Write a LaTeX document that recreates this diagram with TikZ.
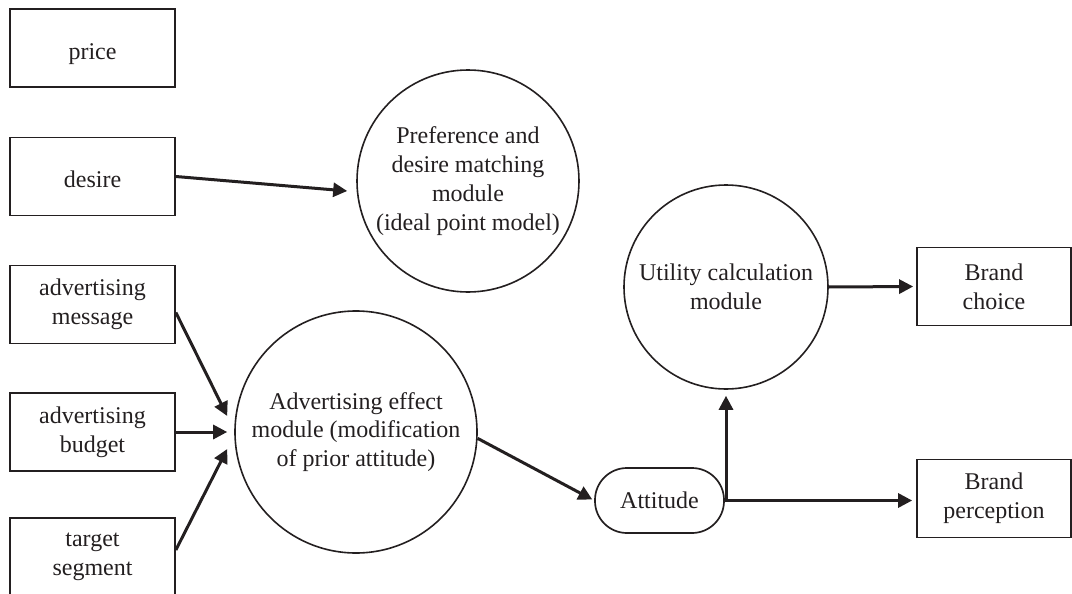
\documentclass[tikz,border=0pt]{standalone}
\usepackage{fontspec}
\setmainfont{Liberation Serif}
\usetikzlibrary{arrows.meta,calc}
\definecolor{ink}{RGB}{35,31,32}
\begin{document}
\begin{tikzpicture}[x=0.5pt,y=-0.5pt,
  font=\fontsize{12}{14.4}\selectfont,
  every node/.style={text=ink, align=center, inner sep=0pt},
  box/.style={draw=ink, line width=0.85pt, minimum width=82.5pt, minimum height=39pt},
  oneline/.style={text height=12pt, text depth=1pt},
  module/.style={draw=ink, line width=0.8pt, circle},
  pill/.style={draw=ink, line width=0.85pt, rounded corners=16pt, minimum width=64.5pt, minimum height=32.5pt},
  conn/.style={draw=ink, line width=1.5pt, -{Triangle[length=7pt,width=7pt]}},
]
\useasboundingbox (0,0) rectangle (1072,594);

% input boxes
\node[box, oneline] (price)  at (92.5,48)    {price};
\node[box, oneline] (desire) at (92.5,176.5) {desire};
\node[box] (message) at (92.5,304.5) {advertising\\message};
\node[box] (budget)  at (92.5,432)   {advertising\\budget};
\node[box] (target)  at (92.5,557)   {target\\segment};

% modules
\node[module, minimum size=111pt] (pref) at (468,181)
  {Preference and\\desire matching\\module\\(ideal point model)};
\node[module, minimum size=121pt] (ad) at (356,432)
  {Advertising effect\\module (modification\\of prior attitude)};
\node[module, minimum size=102pt] (util) at (726,287)
  {Utility calculation\\module};

\node[pill] (attitude) at (659.5,500.5) {Attitude};

% outputs
\node[box, minimum width=77pt] (choice) at (994,286.5) {Brand\\choice};
\node[box, minimum width=77pt] (perc)   at (994,498.5) {Brand\\perception};

% connectors
\draw[conn] (desire.east) -- ($(pref.west)+(-9,10)$);
\draw[conn] ($(message.east)+(0,8)$) -- ($(ad.west)+(-7,-16)$);
\draw[conn, shorten >=3.5pt] (budget.east) -- (ad.west);
\draw[conn] ($(target.east)+(0,-7)$) -- ($(ad.west)+(-7,17)$);
\draw[conn, shorten >=1pt] (ad.-3) -- (attitude.west);
\draw[conn, shorten >=3pt] (attitude.east) -| (util.south);
\draw[conn, shorten >=2pt] (attitude.east) -- (attitude.east -| perc.west);
\draw[conn, shorten >=1.5pt] (util.east) -- (choice.west);
\end{tikzpicture}
\end{document}
